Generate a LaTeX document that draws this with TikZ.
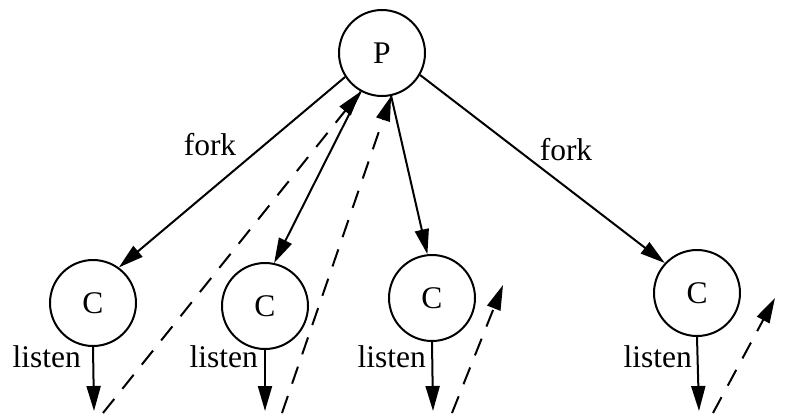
\documentclass[tikz,border=0pt]{standalone}
\usepackage{fontspec}
\setmainfont{Liberation Serif}
\usetikzlibrary{arrows.meta}
\begin{document}
\begin{tikzpicture}[x=1pt,y=-1pt,
  proc/.style={circle,draw,line width=2pt,minimum size=86pt,inner sep=0pt,font=\fontsize{31.5}{36}\selectfont},
  arr/.style={line width=2pt,-{Triangle[length=25pt,width=14pt]}},
  dsh/.style={arr,dash pattern=on 18pt off 13pt},
  lbl/.style={font=\fontsize{31.5}{36}\selectfont,inner sep=0pt}]
\useasboundingbox (0,0) rectangle (804,413);
\node[proc] (P) at (382,53) {P};
\node[proc] (C1) at (93,303) {C};
\node[proc] (C2) at (265,306) {C};
\node[proc] (C3) at (432,298) {C};
\node[proc] (C4) at (697,293) {C};
% fork arrows
\draw[arr] (P.213) -- (C1.54);
\draw[arr] (P.241) -- (C2.78);
\draw[arr] (P.282) -- (C3.96);
\draw[arr] (P.330) -- (C4.137);
\node[lbl] (f1) at (210,145) {fork};
\node[lbl] (f2) at (566,150) {fork};
% listen arrows
\coordinate (L1) at (94,411);
\coordinate (L2) at (265,411);
\coordinate (L3) at (433,411);
\coordinate (L4) at (699,411);
\draw[arr] (C1.south) -- (L1);
\draw[arr] (C2.south) -- (L2);
\draw[arr] (C3.south) -- (L3);
\draw[arr] (C4.south) -- (L4);
\node[lbl,anchor=base east] (l1) at (81,367) {listen};
\node[lbl,anchor=base east] (l2) at (258,367) {listen};
\node[lbl,anchor=base east] (l3) at (426,367) {listen};
\node[lbl,anchor=base east] (l4) at (692,367) {listen};
% dashed arrows
\coordinate (D1) at (103,413);
\coordinate (D2) at (282,413);
\coordinate (D3) at (452,413);
\coordinate (D4) at (713,413);
\coordinate (T3) at (503,285);
\coordinate (T4) at (775,298);
\draw[dsh] (D1) -- (P.241);
\draw[dsh] (D2) -- (P.282);
\draw[dsh] (D3) -- (T3);
\draw[dsh] (D4) -- (T4);
\end{tikzpicture}
\end{document}
